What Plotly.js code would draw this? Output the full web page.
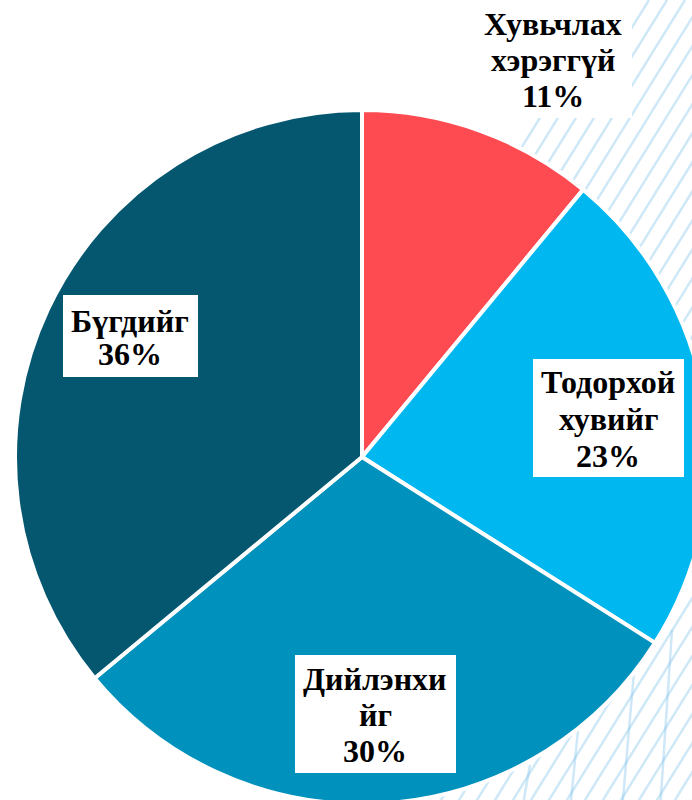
<!DOCTYPE html>
<html>
<head>
<meta charset="utf-8">
<script src="https://cdn.plot.ly/plotly-3.0.1.min.js"></script>
<style>
html, body { margin: 0; padding: 0; width: 692px; height: 800px; overflow: hidden; background: #ffffff; }
#chart { position: absolute; left: 0; top: 0; width: 740px; height: 820px; }
</style>
</head>
<body>
<div id="chart"></div>
<script>
// ---- data ----
const categories = ["Хувьчлах<br>хэрэггүй", "Тодорхой<br>хувийг", "Дийлэнхи<br>йг", "Бүгдийг"];
const values = [11, 23, 30, 36];
const colors = ["#FE4A51", "#00B8EF", "#0091BD", "#04576F"];

// ---- canvas geometry (pixels inside the oversize div) ----
const W = 740, H = 820;
const px = x => x / W;
const py = y => 1 - y / H;

// label layout (pixels): text centre x, first baseline, line step, white box
const labelX = [553, 608, 375, 130];
const labelBase = [35, 393, 690, 332];
const labelStep = [36, 37, 36, 33];
const labelBox = [[474, 0, 632, 118], [533, 359, 684, 477], [295, 655, 456, 773], [63, 295, 198, 377]];
const fontSize = 32;

const shapes = [];
const stripeColor = 'rgba(130,195,235,0.38)';
// decorative background stripes
const slope = 0.62, xa0 = 415, xb0 = 700, ymax = 810;
for (let k = xa0; k < xb0 + slope * ymax; k += 18) {
  const xa = Math.max(xa0, k - slope * ymax);
  const xb = Math.min(xb0, k);
  if (xa < xb) {
    shapes.push({
      type: 'line', xref: 'paper', yref: 'paper', layer: 'below',
      x0: px(xa), y0: py((k - xa) / slope),
      x1: px(xb), y1: py((k - xb) / slope),
      line: { color: stripeColor, width: 2.5 }
    });
  }
}
// faint near-vertical strokes of the backdrop
[[530, 765, 522, 810], [578, 730, 570, 810], [634, 672, 622, 810], [672, 630, 660, 810]].forEach(s => shapes.push({
  type: 'line', xref: 'paper', yref: 'paper', layer: 'below',
  x0: px(s[0]), y0: py(s[1]), x1: px(s[2]), y1: py(s[3]),
  line: { color: stripeColor, width: 2.5 }
}));
// white mask limiting the backdrop band
shapes.push({
  type: 'path', xref: 'paper', yref: 'paper', layer: 'below',
  path: 'M ' + px(0) + ',' + py(0) + ' L ' + px(525) + ',' + py(0) + ' L ' + px(525) + ',' + py(120) +
        ' L ' + px(423) + ',' + py(810) + ' L ' + px(0) + ',' + py(810) + ' Z',
  fillcolor: '#ffffff', line: { width: 0 }
});
// white label boxes
labelBox.forEach(b => shapes.push({
  type: 'rect', xref: 'paper', yref: 'paper', layer: 'above',
  x0: px(b[0]), y0: py(b[3]), x1: px(b[2]), y1: py(b[1]),
  fillcolor: '#ffffff', line: { width: 0 }
}));

const annotations = [];
categories.forEach((c, i) => {
  const lines = c.split('<br>').concat([values[i] + '%']);
  lines.forEach((t, j) => {
    const base = labelBase[i] + j * labelStep[i];
    annotations.push({
      xref: 'paper', yref: 'paper',
      x: px(labelX[i]), y: py(base - 0.34 * fontSize),
      xanchor: 'center', yanchor: 'middle',
      text: '<b>' + t + '</b>',
      showarrow: false,
      font: { family: 'Liberation Serif, Times New Roman, serif', size: fontSize, color: '#000000' }
    });
  });
});

const trace = {
  type: 'pie',
  labels: categories,
  values: values,
  sort: false,
  direction: 'clockwise',
  rotation: 0,
  textinfo: 'none',
  hoverinfo: 'label+percent',
  marker: { colors: colors, line: { color: '#ffffff', width: 4 } },
  domain: { x: [px(15), px(709)], y: [py(804), py(110)] },
  showlegend: false
};

const layout = {
  width: W, height: H,
  margin: { l: 0, r: 0, t: 0, b: 0 },
  paper_bgcolor: 'rgba(0,0,0,0)',
  plot_bgcolor: 'rgba(0,0,0,0)',
  showlegend: false,
  annotations: annotations,
  shapes: shapes
};

Plotly.newPlot('chart', [trace], layout, { displayModeBar: false, staticPlot: true });
</script>
</body>
</html>
